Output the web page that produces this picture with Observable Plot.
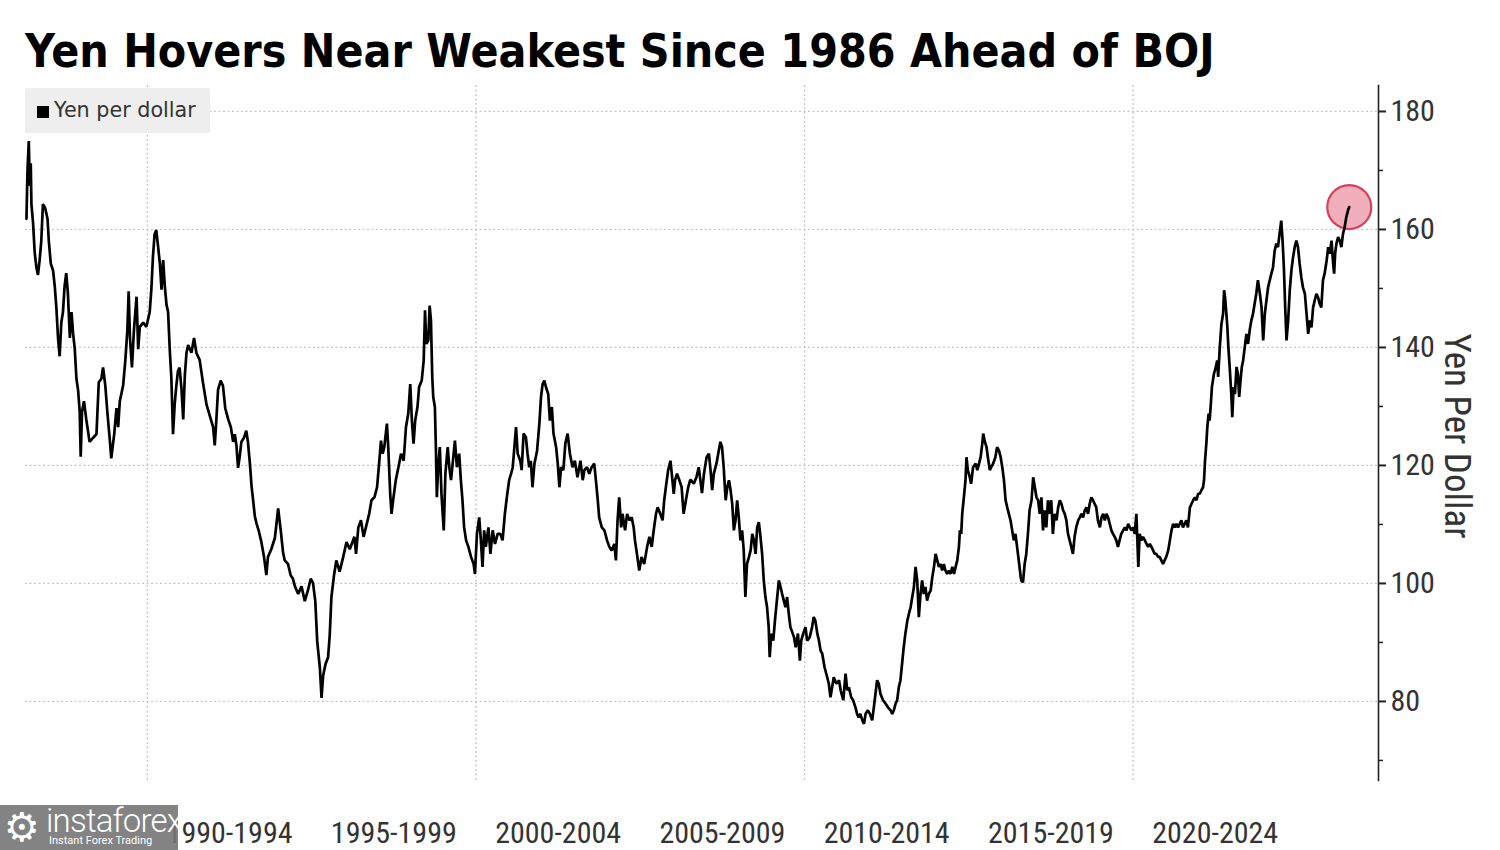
<!DOCTYPE html>
<html><head><meta charset="utf-8">
<script src="https://cdn.jsdelivr.net/npm/d3@7"></script>
<script src="https://cdn.jsdelivr.net/npm/@observablehq/plot@0.6"></script>
<style>
body{margin:0;background:#fff;width:1500px;height:850px;overflow:hidden;position:relative;font-family:"DejaVu Sans",sans-serif}
#title{position:absolute;left:25px;top:28px;font-weight:bold;font-size:46px;font-family:"DejaVu Sans",sans-serif;color:#000;white-space:nowrap;line-height:1;transform:scaleX(0.9);transform-origin:0 0}
#chart{position:absolute;left:0;top:80px}
#legend{position:absolute;left:25px;top:88px;width:185px;height:45px;background:#eeeeee;border-radius:2px;font-family:"DejaVu Sans",sans-serif;font-size:20.7px;color:#333;line-height:45px;box-sizing:border-box;padding-left:12px}
#legend .sw{display:inline-block;width:12px;height:12px;background:#000;margin-right:5px;vertical-align:-1px}
#wm{position:absolute;left:0;top:805px;width:178px;height:45px;background:rgba(118,118,118,0.9);color:#fff;font-family:Roboto,"DejaVu Sans",sans-serif}
#wm .g{position:absolute;left:4px;top:1px;font-size:40px;line-height:42px;font-family:"DejaVu Sans"}
#wm .n{position:absolute;left:46px;top:-3px;font-size:33px;font-weight:300;line-height:38px;letter-spacing:-0.8px}
#wm .s{position:absolute;left:49px;top:30px;font-size:11px;line-height:12px}
</style></head>
<body>
<div id="title">Yen Hovers Near Weakest Since 1986 Ahead of BOJ</div>
<div id="chart"></div>
<div id="legend"><span class="sw"></span>Yen per dollar</div>
<div id="wm"><span class="g">⚙</span><span class="n">instaforex</span><span class="s">Instant Forex Trading</span></div>
<script>
const dates = [
1986.32,1986.35,1986.39,1986.42,1986.45,1986.47,1986.52,1986.57,1986.62,1986.67,1986.72,1986.77,1986.82,1986.89,1986.96,
1987.00,1987.06,1987.13,1987.18,1987.23,1987.28,1987.33,1987.38,1987.43,1987.48,1987.53,1987.58,1987.64,1987.69,1987.74,1987.79,1987.84,1987.89,1987.94,1987.97,
1988.01,1988.07,1988.14,1988.24,1988.35,1988.45,1988.52,1988.60,1988.65,1988.72,1988.78,1988.85,1988.90,1988.99,
1989.06,1989.11,1989.16,1989.21,1989.26,1989.33,1989.39,1989.43,1989.47,1989.53,1989.59,1989.67,1989.72,1989.77,1989.87,1989.97,
1990.07,1990.12,1990.17,1990.22,1990.27,1990.32,1990.38,1990.43,1990.48,1990.53,1990.58,1990.63,1990.68,1990.73,1990.78,1990.83,1990.88,1990.93,1990.98,
1991.04,1991.09,1991.14,1991.19,1991.24,1991.34,1991.42,1991.49,1991.59,1991.69,1991.80,1991.90,
1992.00,1992.05,1992.10,1992.15,1992.23,1992.30,1992.37,1992.46,1992.54,1992.61,1992.66,1992.71,1992.76,1992.81,1992.86,1992.94,
1993.01,1993.06,1993.12,1993.17,1993.22,1993.27,1993.32,1993.39,1993.47,1993.55,1993.62,1993.67,1993.77,1993.88,1993.98,
1994.06,1994.13,1994.18,1994.28,1994.36,1994.43,1994.49,1994.59,1994.69,1994.79,1994.89,1994.97,
1995.04,1995.11,1995.17,1995.25,1995.30,1995.35,1995.42,1995.50,1995.55,1995.60,1995.68,1995.75,1995.85,1995.96,
1996.06,1996.16,1996.30,1996.35,1996.42,1996.50,1996.58,1996.65,1996.75,1996.82,1996.91,1996.99,
1997.06,1997.11,1997.16,1997.21,1997.29,1997.33,1997.39,1997.43,1997.49,1997.56,1997.64,1997.72,1997.80,1997.87,1997.94,
1998.00,1998.05,1998.10,1998.15,1998.22,1998.27,1998.35,1998.41,1998.45,1998.49,1998.55,1998.59,1998.63,1998.67,1998.70,1998.75,1998.78,1998.81,1998.85,1998.90,1998.95,
1999.02,1999.07,1999.14,1999.19,1999.24,1999.30,1999.36,1999.42,1999.49,1999.54,1999.59,1999.64,1999.70,1999.77,1999.85,1999.93,1999.97,
2000.03,2000.10,2000.15,2000.20,2000.25,2000.30,2000.38,2000.44,2000.51,2000.58,2000.66,2000.74,2000.81,2000.88,2000.94,
2001.01,2001.07,2001.12,2001.17,2001.22,2001.27,2001.35,2001.39,2001.45,2001.52,2001.57,2001.62,2001.67,2001.72,2001.78,2001.86,2001.93,2001.98,
2002.03,2002.08,2002.13,2002.20,2002.25,2002.31,2002.36,2002.44,2002.49,2002.54,2002.59,2002.66,2002.72,2002.79,2002.86,2002.94,
2003.01,2003.09,2003.18,2003.25,2003.30,2003.38,2003.45,2003.52,2003.60,2003.65,2003.70,2003.75,2003.83,2003.91,2003.99,
2004.06,2004.13,2004.21,2004.26,2004.31,2004.36,2004.42,2004.46,2004.54,2004.60,2004.67,2004.74,2004.80,2004.84,2004.90,2004.97,
2005.04,2005.12,2005.21,2005.28,2005.35,2005.41,2005.48,2005.53,2005.61,2005.68,2005.73,2005.78,2005.85,2005.92,2005.96,
2006.02,2006.06,2006.12,2006.19,2006.26,2006.32,2006.39,2006.46,2006.52,2006.55,2006.63,2006.71,2006.78,2006.83,2006.88,2006.94,
2007.02,2007.09,2007.14,2007.19,2007.24,2007.32,2007.39,2007.44,2007.49,2007.54,2007.60,2007.65,2007.70,2007.75,2007.80,2007.85,2007.90,2007.95,
2008.00,2008.05,2008.10,2008.15,2008.20,2008.25,2008.31,2008.36,2008.41,2008.46,2008.51,2008.56,2008.61,2008.66,2008.71,2008.76,2008.81,2008.86,2008.91,2008.94,2008.99,
2009.05,2009.10,2009.15,2009.22,2009.27,2009.32,2009.37,2009.42,2009.47,2009.52,2009.57,2009.68,2009.73,2009.80,2009.86,2009.90,2009.96,
2010.03,2010.08,2010.16,2010.23,2010.28,2010.33,2010.39,2010.44,2010.49,2010.54,2010.61,2010.69,2010.74,2010.79,2010.84,2010.89,2010.97,
2011.05,2011.10,2011.18,2011.25,2011.30,2011.35,2011.42,2011.48,2011.55,2011.60,2011.65,2011.70,2011.76,2011.81,2011.86,2011.93,2011.99,
2012.06,2012.11,2012.16,2012.21,2012.26,2012.31,2012.39,2012.47,2012.54,2012.62,2012.67,2012.72,2012.77,2012.82,2012.87,2012.92,2012.97,
2013.02,2013.07,2013.13,2013.18,2013.23,2013.28,2013.33,2013.38,2013.43,2013.48,2013.53,2013.58,2013.63,2013.68,2013.73,2013.78,2013.84,2013.89,2013.94,2013.99,
2014.04,2014.09,2014.14,2014.19,2014.24,2014.29,2014.34,2014.39,2014.44,2014.50,2014.55,2014.60,2014.65,2014.70,2014.73,2014.77,2014.80,2014.85,2014.90,2014.93,2014.97,
2015.03,2015.07,2015.13,2015.21,2015.26,2015.31,2015.36,2015.41,2015.44,2015.48,2015.54,2015.58,2015.64,2015.68,2015.74,2015.81,2015.86,2015.92,2015.97,
2016.02,2016.07,2016.12,2016.17,2016.22,2016.27,2016.32,2016.37,2016.42,2016.47,2016.52,2016.58,2016.60,2016.65,2016.70,2016.75,2016.80,2016.85,2016.91,2016.96,
2017.01,2017.06,2017.11,2017.16,2017.21,2017.26,2017.31,2017.36,2017.41,2017.46,2017.51,2017.56,2017.61,2017.67,2017.72,2017.77,2017.82,2017.87,2017.92,2017.97,
2018.02,2018.07,2018.12,2018.17,2018.22,2018.27,2018.33,2018.38,2018.43,2018.48,2018.53,2018.58,2018.63,2018.68,2018.73,2018.78,2018.83,2018.88,2018.93,2018.99,
2019.04,2019.09,2019.14,2019.19,2019.24,2019.29,2019.34,2019.39,2019.44,2019.49,2019.54,2019.59,2019.64,2019.70,2019.75,2019.80,2019.85,2019.90,2019.95,
2020.00,2020.05,2020.10,2020.13,2020.16,2020.20,2020.25,2020.30,2020.36,2020.41,2020.46,2020.51,2020.56,2020.61,2020.66,2020.71,2020.76,2020.81,2020.86,2020.91,2020.96,
2021.01,2021.07,2021.12,2021.17,2021.22,2021.27,2021.32,2021.37,2021.42,2021.47,2021.52,2021.57,2021.62,2021.67,2021.73,2021.78,2021.83,2021.88,2021.93,2021.98,
2022.03,2022.08,2022.13,2022.16,2022.19,2022.23,2022.26,2022.30,2022.33,2022.36,2022.40,2022.46,2022.52,2022.56,2022.59,2022.64,2022.69,2022.74,2022.77,2022.80,2022.84,2022.87,2022.90,2022.94,2022.99,
2023.02,2023.06,2023.10,2023.15,2023.19,2023.23,2023.27,2023.31,2023.35,2023.40,2023.45,2023.50,2023.55,2023.60,2023.65,2023.70,2023.75,2023.80,2023.86,2023.91,2023.96,
2024.01,2024.06,2024.11,2024.16,2024.21,2024.26,2024.31,2024.36,2024.41,2024.46,2024.51,2024.55,2024.59,2024.63,2024.67,2024.72,2024.77,2024.82,2024.87,2024.92,2024.97,
2025.02,2025.07,2025.12,2025.17,2025.23,2025.28,2025.33,2025.38,2025.43,2025.48,2025.53,2025.58,2025.63,2025.68,2025.73,2025.78,2025.83,2025.89,2025.94,2025.99,
2026.04,2026.09,2026.12,2026.15,2026.19,2026.24,2026.29,2026.34,2026.39,2026.44,2026.49,2026.54,2026.58
];
const yenPerDollar = [
161.8,169.9,175.0,167.4,171.2,164.3,161.1,156.1,153.6,152.3,154.8,158.0,164.3,163.6,161.8,
158.0,154.2,153.0,150.4,146.7,141.6,138.5,144.2,146.0,150.4,152.6,149.2,141.6,146.0,142.3,139.7,134.7,132.8,129.1,121.5,
129.1,130.9,127.8,124.0,124.7,125.3,134.1,134.7,136.6,133.5,129.1,124.7,121.2,125.3,
129.7,126.5,130.9,132.2,133.5,137.9,142.9,149.5,141.6,136.6,142.9,148.6,139.7,143.5,144.2,143.5,
146.0,149.8,155.5,159.2,159.9,157.4,154.2,149.8,154.8,150.4,147.3,146.0,139.7,134.7,125.3,130.3,133.5,136.0,136.6,
132.8,127.8,135.3,139.1,140.4,139.1,141.6,139.1,137.9,134.1,130.3,128.4,
126.5,123.4,127.8,132.8,134.4,133.5,129.7,127.8,126.5,124.0,125.3,123.4,119.6,121.5,124.0,124.7,
125.9,124.0,120.3,116.5,114.0,111.4,110.2,108.9,107.0,104.5,101.4,104.5,105.8,107.7,112.7,
108.9,105.2,103.9,103.3,101.4,100.8,99.5,98.2,99.5,97.0,98.9,100.8,
100.1,97.0,90.1,85.7,80.6,84.4,86.3,87.5,91.3,97.6,101.4,103.9,102.0,104.5,
107.0,105.8,107.9,105.0,109.5,110.7,107.9,109.5,111.8,114.1,114.6,116.3,
120.8,124.2,122.0,123.1,127.1,123.1,115.2,111.8,114.6,117.5,119.7,122.0,120.8,126.5,128.8,
133.8,127.6,123.7,127.6,129.9,133.3,134.4,137.8,146.3,140.6,141.2,147.1,144.6,135.0,131.6,129.9,123.1,114.6,119.7,123.1,115.2,
109.0,118.6,123.1,119.7,117.5,120.8,124.2,119.7,122.0,117.5,114.1,109.5,107.3,106.2,104.5,103.3,101.6,
108.4,111.2,107.3,102.8,109.0,106.2,109.5,105.0,109.0,106.7,108.4,108.4,107.3,111.8,114.6,
117.5,118.6,119.7,123.1,126.5,122.0,120.8,119.2,125.4,124.8,122.0,119.7,120.8,116.3,120.3,122.5,127.1,131.6,
133.8,134.4,133.3,132.1,127.6,129.9,125.4,123.1,120.3,116.3,119.7,119.2,123.7,125.4,122.0,119.7,
120.8,118.0,120.8,117.5,119.2,119.7,118.6,119.7,120.3,117.5,114.6,111.2,109.5,109.0,107.3,
106.2,105.6,106.7,103.9,110.7,114.6,109.5,111.8,109.0,111.8,110.7,111.2,109.5,107.3,105.0,102.2,
104.5,103.3,106.2,107.9,106.2,109.0,111.8,112.9,111.8,110.7,114.1,116.3,119.2,120.8,118.6,
115.2,117.5,118.6,117.5,116.3,111.8,114.1,116.3,117.5,117.5,116.9,118.0,119.7,117.5,115.3,118.6,
121.4,122.0,119.2,115.8,118.6,120.3,122.5,124.0,123.1,119.7,114.1,116.3,117.5,115.8,113.5,109.0,110.7,114.1,
111.2,107.3,109.0,105.6,97.7,103.3,104.5,105.6,108.4,107.3,105.0,109.5,110.4,107.9,105.0,100.5,97.7,96.0,92.6,87.5,91.5,
90.3,93.7,96.6,100.5,99.4,98.2,97.1,96.0,97.7,94.9,92.6,90.9,89.2,91.5,86.9,90.3,91.5,
92.6,90.3,90.9,92.6,94.3,93.7,91.5,90.3,88.6,88.1,85.8,84.1,83.0,80.7,82.4,84.1,83.0,
83.6,81.9,80.2,84.7,81.9,82.4,80.7,80.2,79.0,77.9,77.3,77.9,76.8,76.2,77.9,78.5,77.9,
76.8,79.0,81.3,83.6,83.0,81.3,80.2,79.6,79.0,78.5,77.9,78.5,79.6,80.2,82.4,83.6,86.4,
89.2,91.5,93.7,94.9,96.0,97.7,99.4,102.8,100.5,94.3,98.2,100.5,98.2,99.4,97.1,98.2,98.8,101.1,102.8,105.0,
103.9,102.8,103.3,102.2,103.3,102.2,101.6,102.2,101.6,102.8,101.6,102.8,103.9,106.2,109.0,108.4,111.8,114.6,117.5,121.4,119.2,
118.0,116.9,119.7,120.3,119.2,120.3,121.4,123.7,125.4,124.2,123.1,121.4,119.2,119.7,120.3,121.4,123.1,122.5,121.4,
119.7,117.5,114.1,112.9,111.8,110.7,109.0,107.3,108.4,106.2,103.9,101.1,100.5,100.2,103.3,105.0,108.4,112.4,114.1,118.0,
116.3,114.6,114.1,111.8,114.6,109.0,112.4,109.5,114.1,111.8,114.1,108.4,111.8,110.7,112.9,114.1,113.5,112.4,111.8,110.7,
108.4,107.3,106.2,105.0,107.9,109.5,110.7,111.2,111.8,111.2,112.4,112.9,111.8,113.5,114.6,114.1,113.5,112.9,110.7,109.5,
111.2,111.8,110.7,111.8,111.2,110.1,109.0,108.4,107.9,107.3,106.2,107.3,108.4,109.0,109.5,109.0,110.1,109.5,109.0,
109.5,108.4,111.8,107.3,102.8,108.4,107.3,107.9,107.3,106.7,106.2,106.7,106.2,105.6,105.0,105.0,104.5,104.5,103.9,103.3,103.9,
104.5,105.6,107.3,109.0,110.1,109.5,110.1,109.5,110.1,110.7,109.5,110.1,110.7,109.5,112.9,113.5,114.1,114.6,114.1,115.2,
115.2,115.8,116.3,117.5,120.8,123.7,126.5,128.8,127.6,129.9,133.3,135.5,136.7,137.8,135.0,140.1,144.0,145.7,149.7,148.5,145.7,143.4,140.1,136.7,132.1,
128.2,133.3,132.1,136.7,135.5,131.6,134.4,136.7,137.8,140.1,142.3,140.6,142.9,144.6,145.7,147.4,149.1,151.4,149.1,146.8,141.2,
145.7,148.0,150.2,151.4,152.5,153.6,156.4,157.6,157.0,159.3,161.5,158.1,153.6,146.8,141.2,144.6,149.7,153.1,155.3,157.0,158.1,
157.0,154.2,151.9,150.2,149.1,145.7,142.3,144.6,143.4,146.8,148.0,149.1,148.5,147.4,146.8,151.4,152.5,154.7,157.0,155.9,
158.1,154.2,152.5,155.9,157.6,158.7,158.1,157.0,159.3,160.4,162.1,163.2,163.8
];
const gridYears = [1990, 2000, 2010, 2020];
const periodMid = [1992.5, 1997.5, 2002.5, 2007.5, 2012.5, 2017.5, 2022.5];
const periodLabels = ["1990-1994", "1995-1999", "2000-2004", "2005-2009", "2010-2014", "2015-2019", "2020-2024"];
const yTicks = [80, 100, 120, 140, 160, 180];
const yMinorTicks = [70, 90, 110, 130, 150, 170];
const yTitle = "Yen Per Dollar";

const n = Math.min(dates.length, yenPerDollar.length);
const series = d3.range(n).map(i => ({date: dates[i], yen: yenPerDollar[i]}));
const lastPoint = series[n - 1];
const narrow = '"Liberation Sans Narrow","Roboto Condensed","Open Sans",sans-serif';

const chart = Plot.plot({
  width: 1500,
  height: 770,
  marginTop: 5,
  marginBottom: 70,
  marginLeft: 25,
  marginRight: 122,
  style: {background: "transparent", fontFamily: narrow, color: "#333"},
  x: {domain: [1986.29, 2027.47], axis: null},
  y: {domain: [66.6, 184.4], axis: null},
  marks: [
    Plot.ruleY(yTicks, {stroke: "#c6c6c6", strokeWidth: 1.3, strokeDasharray: "2,2.5"}),
    Plot.ruleX(gridYears, {stroke: "#c6c6c6", strokeWidth: 1.3, strokeDasharray: "2,2.5"}),
    Plot.axisX(periodMid, {tickSize: 0, tickPadding: 41, fontSize: 30, fill: "#333", label: null,
      tickFormat: d => periodLabels[periodMid.indexOf(d)]}),
    Plot.axisY(yTicks, {anchor: "right", tickSize: 7, tickPadding: 5, fontSize: 30, fill: "#333", stroke: "#222", strokeWidth: 2, label: null}),
    Plot.axisY(yMinorTicks, {anchor: "right", tickSize: 4, stroke: "#222", strokeWidth: 1.5, text: null, label: null}),
    Plot.frame({anchor: "right", stroke: "#222", strokeWidth: 1.6}),
    Plot.text([yTitle], {frameAnchor: "right", textAnchor: "middle", lineAnchor: "middle", rotate: 90, dx: 78, dy: 3, fontSize: 37, fill: "#333", fontFamily: narrow, letterSpacing: "3.5px"}),
    Plot.dot([lastPoint], {x: "date", y: "yen", r: 22, fill: "#e66e84", fillOpacity: 0.55, stroke: "#d6405c", strokeWidth: 2.2}),
    Plot.line(series, {x: "date", y: "yen", stroke: "#000", strokeWidth: 2.7, strokeLinejoin: "miter"})
  ]
});
document.getElementById("chart").append(chart);
</script>
</body></html>
